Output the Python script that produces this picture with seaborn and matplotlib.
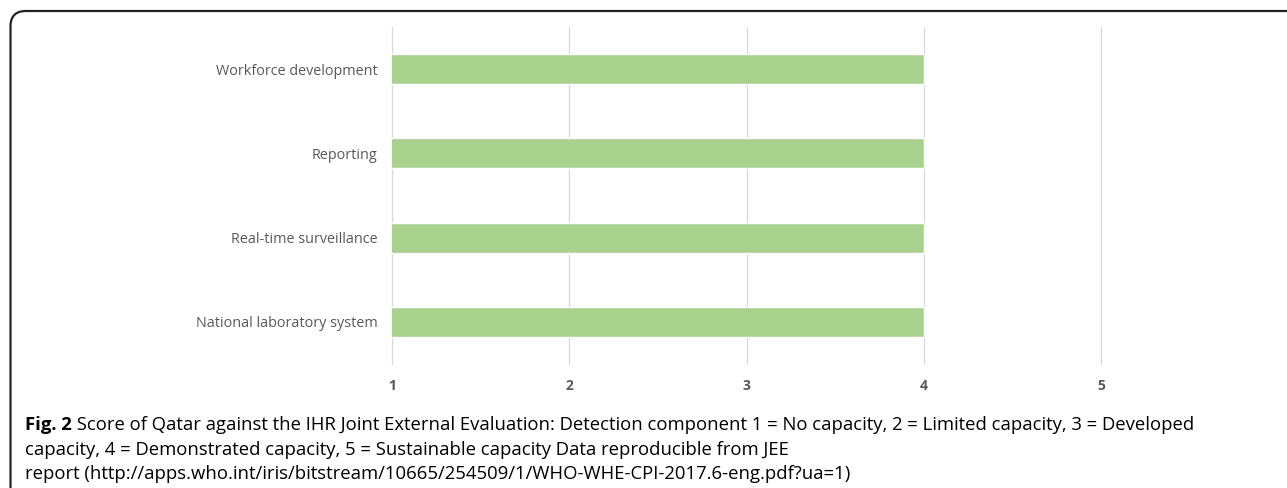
import matplotlib
matplotlib.use("Agg")
import matplotlib.pyplot as plt
from matplotlib.patches import FancyBboxPatch
import seaborn as sns
import pandas as pd

# Detection component scores
categories = ["Workforce development", "Reporting", "Real-time surveillance",
              "National laboratory system"]
scores = [4, 4, 4, 4]
score_ticks = [1, 2, 3, 4, 5]

caption_bold = "Fig. 2"
caption_lines = [
    " Score of Qatar against the IHR Joint External Evaluation: Detection component 1 = No capacity, 2 = Limited capacity, 3 = Developed",
    "capacity, 4 = Demonstrated capacity, 5 = Sustainable capacity Data reproducible from JEE",
    "report (http://apps.who.int/iris/bitstream/10665/254509/1/WHO-WHE-CPI-2017.6-eng.pdf?ua=1)",
]

sns.set_theme(style="white")
plt.rcParams["font.family"] = ["Open Sans", "DejaVu Sans"]

df = pd.DataFrame({"category": categories, "score": scores})

fig = plt.figure(figsize=(12.87, 4.88), dpi=100)
ax = fig.add_axes([392 / 1287, 1 - 364 / 488, (1101 - 392) / 1287, (364 - 27) / 488])

sns.barplot(data=df, x="score", y="category", color="#A9D18E", width=0.356,
            saturation=1, ax=ax, zorder=2)

ax.set_xlim(1, 5)
ax.set_ylim(3.5, -0.5)
ax.set_xticks(score_ticks)
ax.set_xticklabels([str(t) for t in score_ticks], fontweight="bold", color="#595959",
                   fontsize=10)
ax.tick_params(axis="x", length=0, pad=11)
ax.tick_params(axis="y", length=0, pad=10.5, labelsize=10.4, labelcolor="#595959")
ax.xaxis.grid(True, color="#D9D9D9", linewidth=0.9, zorder=0)
ax.yaxis.grid(False)
for gl in ax.get_xgridlines():
    gl.set_clip_on(False)
ax.set_xlabel("")
ax.set_ylabel("")
for s in ax.spines.values():
    s.set_visible(False)

# Rounded frame around the figure panel
frame = FancyBboxPatch((10.5 / 1287, -0.05), 1.1, 1 - 11 / 488 + 0.05,
                       boxstyle="round,pad=0,rounding_size=0.012",
                       transform=fig.transFigure, fill=False,
                       edgecolor="#222222", linewidth=1.6, mutation_aspect=1287 / 488)
fig.patches.append(frame)

# Caption
fs = 13.3
renderer = fig.canvas.get_renderer()
t0 = fig.text(25 / 1287, 1 - 425 / 488, caption_bold, fontsize=fs, fontweight="bold",
              color="black", va="center", ha="left")
bb = t0.get_window_extent(renderer=renderer)
fig.text(bb.x1 / fig.bbox.width, 1 - 425 / 488, caption_lines[0], fontsize=fs,
         color="black", va="center", ha="left")
fig.text(25 / 1287, 1 - 450 / 488, caption_lines[1], fontsize=fs, color="black",
         va="center", ha="left")
fig.text(25 / 1287, 1 - 474 / 488, caption_lines[2], fontsize=fs, color="black",
         va="center", ha="left")

fig.savefig("out.png", dpi=100)
